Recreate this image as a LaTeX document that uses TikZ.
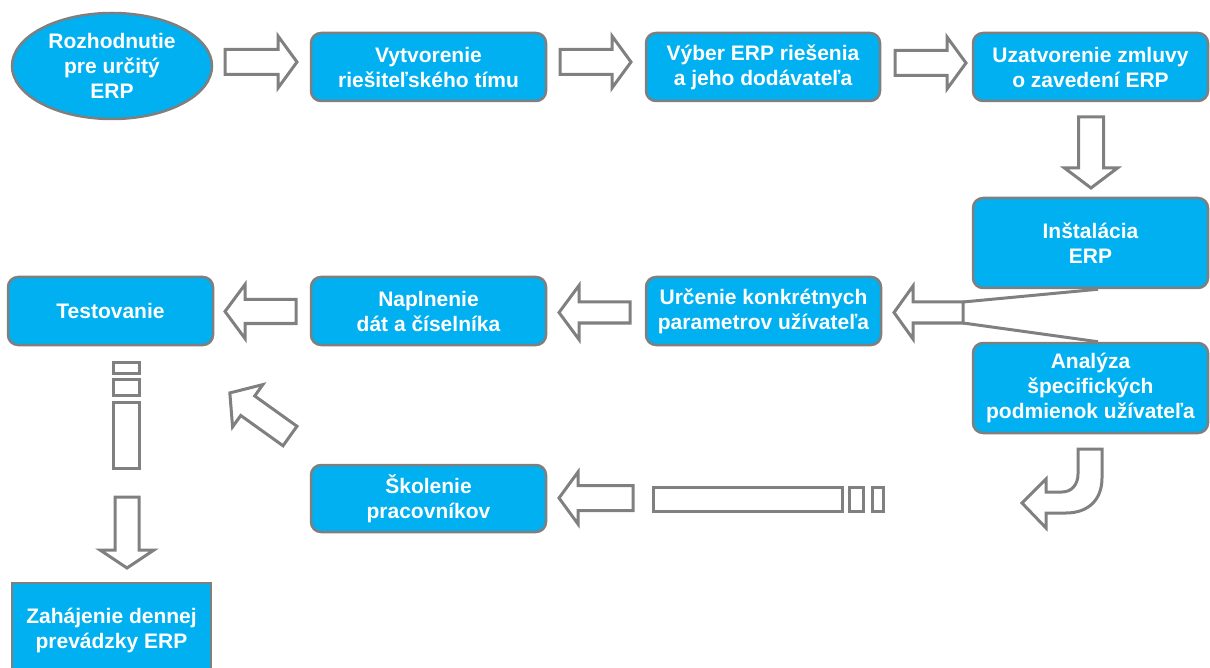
\documentclass[tikz,border=0pt]{standalone}
\usepackage{fontspec}
\setmainfont{Liberation Sans}
\usetikzlibrary{shapes.geometric,calc}
\definecolor{boxfill}{HTML}{00B0F0}
\definecolor{boxline}{HTML}{7F7F7F}
\definecolor{arrline}{HTML}{808080}
\newcommand{\blockarr}[7]{%
  \begin{scope}[shift={(#1,#2)}, rotate=#3]
    \draw[barrow] (0,-#5) -- ({#4-#7},-#5) -- ({#4-#7},-#6) -- (#4,0) -- ({#4-#7},#6) -- ({#4-#7},#5) -- (0,#5) -- cycle;
  \end{scope}}
\begin{document}
\begin{tikzpicture}[x=1pt,y=-1pt,
  stepbox/.style={draw=boxline, line width=2.5pt, fill=boxfill, rounded corners=10pt,
    text=white, font=\fontsize{21}{25}\selectfont\bfseries, align=center, inner sep=0pt},
  ovalbox/.style={ellipse, draw=boxline, line width=2.5pt, fill=boxfill,
    text=white, font=\fontsize{21}{25}\selectfont\bfseries, align=center, inner sep=0pt},
  barrow/.style={draw=arrline, line width=3pt, fill=white, line join=miter},
  forkline/.style={draw=arrline, line width=3pt}]
\path[use as bounding box] (0,0) rectangle (1210,668);
\clip (0,0) rectangle (1210,668);

% nodes
\node[ovalbox, minimum width=200pt, minimum height=106pt] (ell) at (112,66) {Rozhodnutie\\pre určitý\\ERP};
\node[stepbox, minimum width=235pt, minimum height=68pt] (vyt) at (428.5,67) {Vytvorenie\\riešiteľského tímu};
\node[stepbox, minimum width=234pt, minimum height=68pt] (vyb) at (763,67) {Výber ERP riešenia\\a jeho dodávateľa};
\node[stepbox, minimum width=235pt, minimum height=68pt] (uza) at (1090.5,67) {Uzatvorenie zmluvy\\o zavedení ERP};
\node[stepbox, minimum width=235pt, minimum height=90pt] (ins) at (1090.5,243) {Inštalácia\\ERP};
\node[stepbox, minimum width=235pt, minimum height=90pt] (ana) at (1090.5,388) {Analýza\\špecifických\\podmienok užívateľa};
\node[stepbox, minimum width=235pt, minimum height=68pt] (urc) at (763.5,311) {Určenie konkrétnych\\parametrov užívateľa};
\node[stepbox, minimum width=235pt, minimum height=68pt] (nap) at (428.5,311) {Naplnenie\\dát a číselníka};
\node[stepbox, minimum width=205pt, minimum height=68pt] (tes) at (110.5,311) {Testovanie};
\node[stepbox, minimum width=235pt, minimum height=67pt] (sko) at (428.5,498.5) {Školenie\\pracovníkov};
\node[stepbox, rounded corners=0pt, minimum width=199pt, minimum height=94pt] (zah) at (111.5,630) {Zahájenie dennej\\prevádzky ERP};

% block arrows
\blockarr{225}{62}{0}{72}{12.5}{26}{19}
\blockarr{560}{62}{0}{71}{12.5}{26}{19}
\blockarr{895}{63}{0}{71}{12.5}{26}{19}
\blockarr{1091}{117}{-90}{71}{12.5}{26.5}{20}
\blockarr{963}{312.5}{180}{69}{10.5}{26.5}{19}
\blockarr{630}{312.5}{180}{71}{10.5}{27}{20}
\blockarr{296}{311.5}{180}{71}{12}{27}{20}
\blockarr{633}{498}{180}{74}{12.5}{26}{19}
\blockarr{127}{497}{-90}{71}{12}{27}{18}
\blockarr{290}{436}{144.4}{74}{12}{26}{22}

% fork lines from the arrow tail to the two boxes
\coordinate (forktop) at (963,302);
\coordinate (forkbot) at (963,323);
\draw[forkline] (forktop) -- ($(ins.south)+(7.5,0)$);
\draw[forkline] (forkbot) -- ($(ana.north)+(7.5,0)$);

% broken vertical bar
\draw[barrow] (113,362) rectangle (139,373);
\draw[barrow] (113,379) rectangle (139,395);
\draw[barrow] (113,402) rectangle (139,468);

% broken horizontal bar
\draw[barrow] (653,487) rectangle (842,511);
\draw[barrow] (849,487) rectangle (863,511);
\draw[barrow] (872,487) rectangle (883,511);

% bent arrow
\draw[barrow] (1078,449) -- (1102,449) -- (1102,478)
  .. controls (1102,500) and (1088,513) .. (1066,513)
  -- (1046,513) -- (1046,528) -- (1022,503) -- (1046,479) -- (1046,492) -- (1062,492)
  .. controls (1072,492) and (1078,484) .. (1078,474) -- cycle;
\end{tikzpicture}
\end{document}
